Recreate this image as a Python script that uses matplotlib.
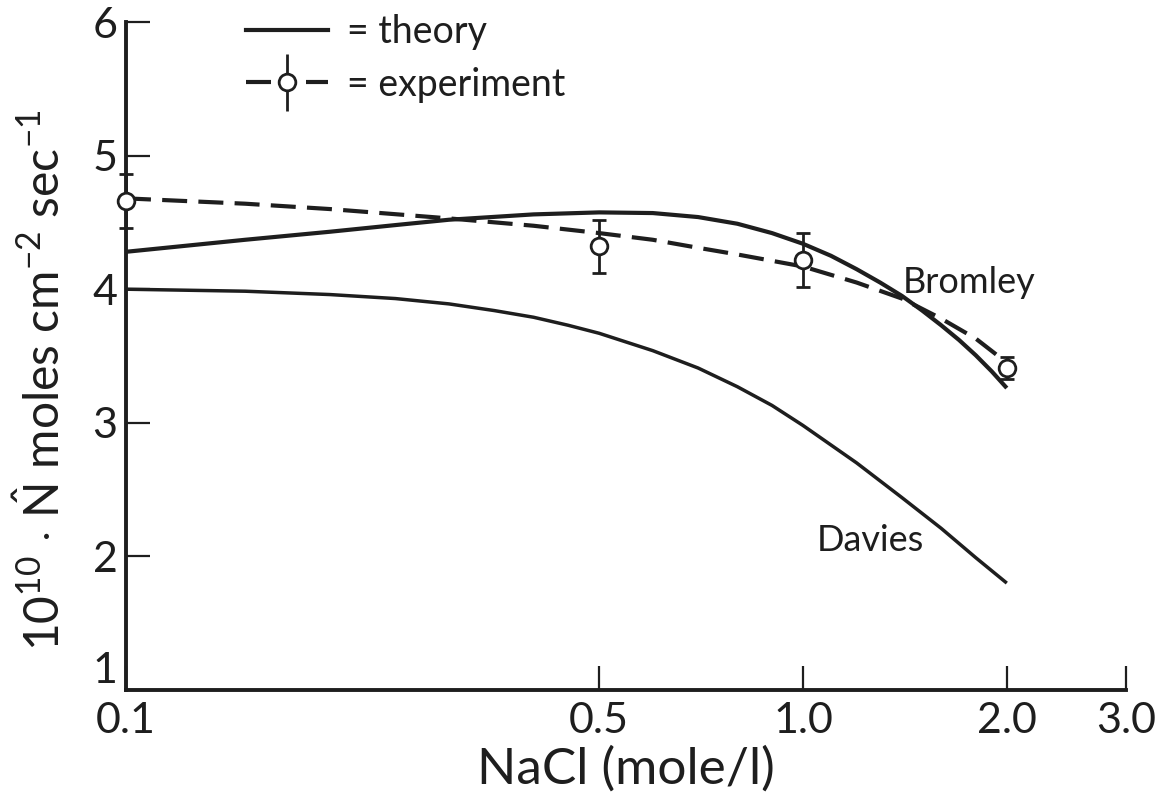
import matplotlib.pyplot as plt
from matplotlib.lines import Line2D
from matplotlib.legend_handler import HandlerErrorbar
from matplotlib.ticker import FixedLocator, FixedFormatter, NullLocator

plt.rcParams['font.family'] = ['Lato', 'DejaVu Sans']
plt.rcParams['mathtext.fontset'] = 'custom'
plt.rcParams['mathtext.rm'] = 'Lato'
plt.rcParams['mathtext.it'] = 'Lato'
plt.rcParams['mathtext.bf'] = 'Lato'

ink = '#1e1e1e'

# NaCl concentration (mole/l) for the Bromley curve
conc_b = [0.1, 0.15, 0.2, 0.25, 0.3, 0.4, 0.5, 0.6, 0.7, 0.8, 0.9, 1.0, 1.1, 1.2,
          1.3, 1.4, 1.5, 1.6, 1.7, 1.8, 1.9, 2.0]
bromley = [4.28, 4.37, 4.43, 4.48, 4.52, 4.56, 4.575, 4.57, 4.54, 4.49, 4.42, 4.34, 4.25, 4.15,
           4.05, 3.95, 3.84, 3.73, 3.62, 3.505, 3.385, 3.26]

# NaCl concentration (mole/l) for the Davies curve
conc_d = [0.1, 0.15, 0.2, 0.25, 0.3, 0.35, 0.4, 0.45, 0.5, 0.6, 0.7, 0.8, 0.9, 1.0,
          1.2, 1.4, 1.6, 1.8, 2.0]
davies = [4.00, 3.985, 3.96, 3.93, 3.89, 3.84, 3.79, 3.73, 3.67, 3.54, 3.41, 3.27, 3.13, 2.98,
          2.70, 2.44, 2.21, 1.99, 1.80]

# smooth line through the measurements
fit_conc = [0.1, 0.15, 0.2, 0.3, 0.4, 0.5, 0.6, 0.7, 0.8, 1.0, 1.2, 1.4, 1.6, 1.8, 2.0]
fit_flux = [4.68, 4.64, 4.60, 4.53, 4.475, 4.42, 4.37, 4.31, 4.26, 4.17, 4.05, 3.93, 3.78, 3.63, 3.45]

# measurements
exp_conc = [0.1, 0.5, 1.0, 2.0]
exp_flux = [4.66, 4.32, 4.22, 3.41]
exp_err = [0.20, 0.20, 0.20, 0.085]

xticks = [0.1, 0.5, 1.0, 2.0, 3.0]
xticklabels = ['0.1', '0.5', '1.0', '2.0', '3.0']
yticks = [1, 2, 3, 4, 5, 6]

fig = plt.figure(figsize=(11.63, 7.95), dpi=100)
ax = fig.add_axes([0.1083, 0.1321, 0.8599, 0.8402])

ax.plot(conc_b, bromley, color=ink, lw=3.0, solid_capstyle='butt', clip_on=False, zorder=3)
ax.plot(conc_d, davies, color=ink, lw=2.5, solid_capstyle='butt', clip_on=False, zorder=3)
ax.plot(fit_conc, fit_flux, color=ink, lw=3.0, dashes=(6, 2.7), clip_on=False, zorder=3)

eb = ax.errorbar(exp_conc, exp_flux, yerr=exp_err, fmt='o', ms=12, mfc='white',
                 mec=ink, mew=2.0, ecolor=ink, elinewidth=2.0, capsize=5,
                 capthick=2.2, clip_on=False, zorder=5)
for art in eb.lines[1] + eb.lines[2]:
    art.set_clip_on(False)
eb.lines[0].set_clip_on(False)

ax.text(1.76, 4.05, 'Bromley', fontsize=26, color=ink, ha='center', va='center')
ax.text(1.256, 2.12, 'Davies', fontsize=26, color=ink, ha='center', va='center')

# legend: solid theory line and dashed experiment with error bar
theory_h = Line2D([], [], color=ink, lw=3.0)
exp_h = ax.errorbar([], [], yerr=[], fmt='o', ms=12, mfc='white', mec=ink, mew=2.0,
                    ecolor=ink, elinewidth=2.0, capsize=5, capthick=2.2,
                    ls='--', lw=3.0, dashes=(6, 8.4), color=ink)
leg = ax.legend([theory_h, exp_h], ['= theory', '= experiment'],
                handler_map={type(exp_h): HandlerErrorbar(yerr_size=0.75)},
                loc='upper left', bbox_to_anchor=(0.105, 1.035), frameon=False,
                fontsize=27, handlelength=2.2, handletextpad=0.5, labelspacing=0.45,
                borderaxespad=0)
for t in leg.get_texts():
    t.set_color(ink)

ax.set_xscale('log')
ax.set_xlim(0.1, 3.0)
ax.set_ylim(1, 6)
ax.xaxis.set_major_locator(FixedLocator(xticks))
ax.xaxis.set_major_formatter(FixedFormatter(xticklabels))
ax.xaxis.set_minor_locator(NullLocator())
ax.set_yticks(yticks)

for side in ['top', 'right']:
    ax.spines[side].set_visible(False)
for side in ['left', 'bottom']:
    ax.spines[side].set_linewidth(2.8)
    ax.spines[side].set_color(ink)

ax.tick_params(axis='both', direction='in', length=17, width=1.6, color=ink,
               labelsize=31, labelcolor=ink)
ax.tick_params(axis='x', pad=9)
ax.tick_params(axis='y', pad=6)

# the "1" sits above the corner so it clears "0.1"
ax.get_yticklabels()[0].set_va('bottom')

ax.set_xlabel('NaCl (mole/l)', fontsize=37, color=ink, labelpad=4)
ax.set_ylabel(r'10$^{10}$ $\cdot$ $\hat{\mathrm{N}}$ moles cm$^{-2}$ sec$^{-1}$',
              fontsize=34.5, color=ink)
ax.yaxis.set_label_coords(-0.058, 0.464)

fig.savefig('out.png', dpi=100, facecolor='white')
